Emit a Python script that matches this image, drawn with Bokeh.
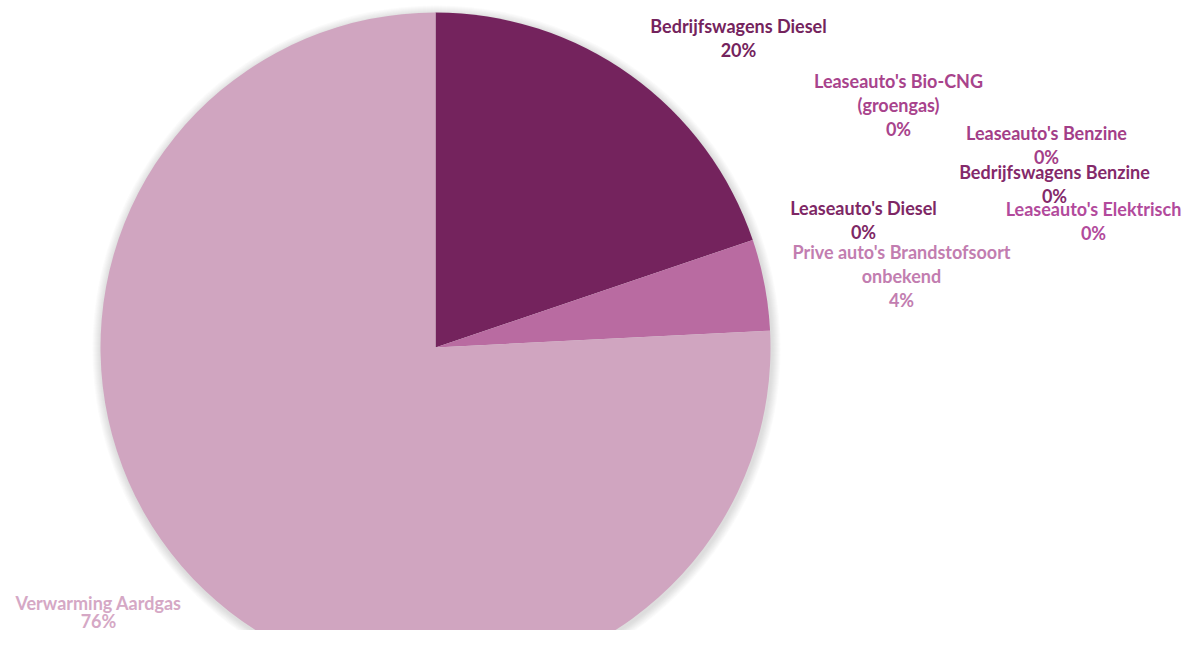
import math
from bokeh.plotting import figure
from bokeh.models import Range1d, ColumnDataSource
from bokeh.core.properties import value
from bokeh.embed import file_html
from bokeh.resources import INLINE

# ---- data ----
categories = [
    "Bedrijfswagens Diesel",
    "Leaseauto's Bio-CNG (groengas)",
    "Leaseauto's Benzine",
    "Bedrijfswagens Benzine",
    "Leaseauto's Elektrisch",
    "Leaseauto's Diesel",
    "Prive auto's Brandstofsoort onbekend",
    "Verwarming Aardgas",
]
shares = [19.8, 0.0, 0.0, 0.0, 0.0, 0.0, 4.4, 75.8]
pct_labels = ["20%", "0%", "0%", "0%", "0%", "0%", "4%", "76%"]
label_lines = [
    ["Bedrijfswagens Diesel"],
    ["Leaseauto's Bio-CNG", "(groengas)"],
    ["Leaseauto's Benzine"],
    ["Bedrijfswagens Benzine"],
    ["Leaseauto's Elektrisch"],
    ["Leaseauto's Diesel"],
    ["Prive auto's Brandstofsoort", "onbekend"],
    ["Verwarming Aardgas"],
]
slice_colors = ["#74235D", "#A8438C", "#A8438C", "#8A2C70", "#B24A9C", "#862A6B", "#B96BA1", "#D0A5C0"]
label_colors = ["#74235D", "#A8438C", "#A33E88", "#84296A", "#B24A9C", "#7E2765", "#C27DB0", "#D5A8C5"]

# ---- layout (picture pixel coords; y flipped) ----
W, H = 1184, 630
def Y(py):
    return H - py

p = figure(width=W, height=H, output_backend="svg", toolbar_location=None,
           x_range=Range1d(0, W), y_range=Range1d(0, H), min_border=0)
p.axis.visible = False
p.grid.visible = False
p.outline_line_color = None
p.background_fill_color = "white"
p.border_fill_color = "white"

cx, cy, r = 435, Y(347), 335

# soft shadow
for k in range(1, 10):
    p.circle(x=[cx + 1], y=[cy - 2], radius=r + k, fill_color="#808080",
             fill_alpha=0.035, line_color=None)

# wedges clockwise from 12 o'clock
total = sum(shares)
starts, ends = [], []
acc = 0.0
for s in shares:
    a0 = math.pi / 2 - 2 * math.pi * acc / total
    acc += s
    a1 = math.pi / 2 - 2 * math.pi * acc / total
    starts.append(a0)
    ends.append(a1)

idx = [i for i, s in enumerate(shares) if s > 0]
src = ColumnDataSource(dict(
    start=[starts[i] for i in idx], end=[ends[i] for i in idx],
    color=[slice_colors[i] for i in idx]))
p.wedge(x=cx, y=cy, radius=r, start_angle="end", end_angle="start",
        fill_color="color", line_color=None, source=src)

# label anchor positions (center x, first line center y, line step) in picture pixels
anchor_map = {
    "Bedrijfswagens Diesel": (738, 25, 24),
    "Leaseauto's Bio-CNG (groengas)": (898, 80, 24),
    "Leaseauto's Benzine": (1046, 132, 24),
    "Bedrijfswagens Benzine": (1054, 171, 24),
    "Leaseauto's Diesel": (863, 207, 24),
    "Leaseauto's Elektrisch": (1093, 208, 24),
    "Prive auto's Brandstofsoort onbekend": (901, 251, 24),
    "Verwarming Aardgas": (98, 602, 18),
}
xs, ys, ts, cs = [], [], [], []
for i, cat in enumerate(categories):
    ax, ay, lh = anchor_map[cat]
    lines = label_lines[i] + [pct_labels[i]]
    for j, ln in enumerate(lines):
        xs.append(ax)
        ys.append(Y(ay + j * lh))
        ts.append(ln)
        cs.append(label_colors[i])

p.text(x=xs, y=ys, text=ts, text_color=cs, text_align="center",
       text_baseline="middle", text_font=value("Lato"),
       text_font_style="bold", text_font_size="18px")

open("out.html", "w").write(file_html(p, INLINE))
